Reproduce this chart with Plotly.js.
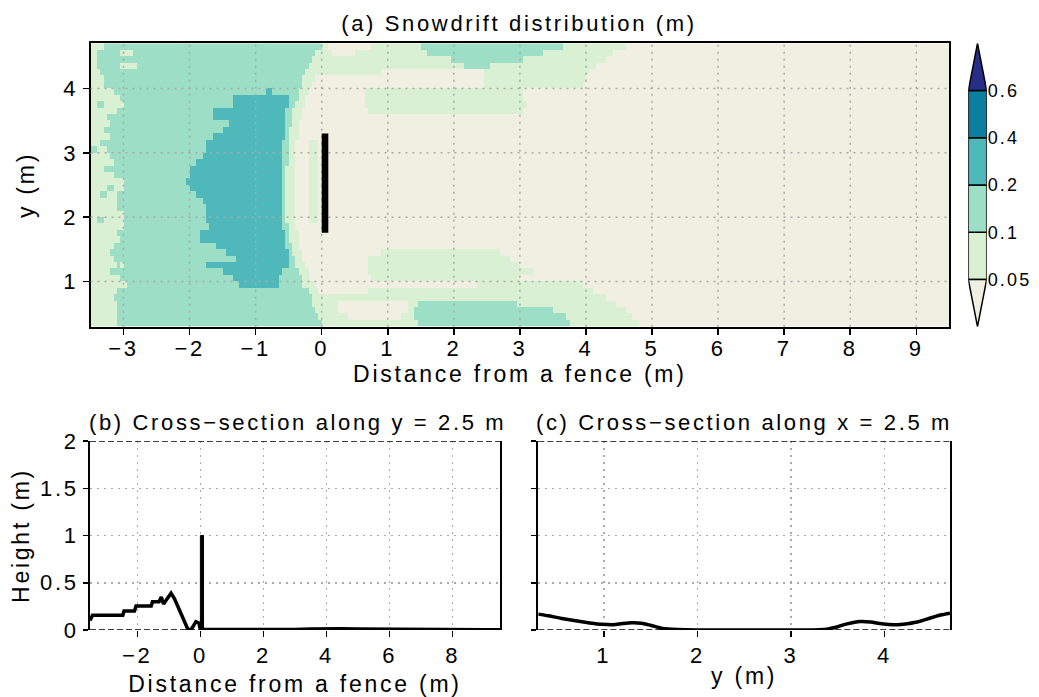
<!DOCTYPE html>
<html>
<head>
<meta charset="utf-8">
<script src="https://cdn.plot.ly/plotly-3.0.1.min.js"></script>
<style>
  html, body { margin: 0; padding: 0; background: #ffffff; }
  #chart { width: 1039px; height: 697px; }
  svg text { letter-spacing: 0.12em; }
</style>
</head>
<body>
<div id="chart"></div>
<script>
// Snowdrift depth classes (m): class 0 is below 0.05, class 5 above 0.6
const levelBounds = [0.05, 0.1, 0.2, 0.4, 0.6];
const levelLabels = ['0.05', '0.1', '0.2', '0.4', '0.6'];
const levelColors = ['#f1efe2', '#d9f0d3', '#9cdec6', '#4eb8ba', '#0a7fa0', '#282d87'];

// Map rows: centre of each 0.1 m strip in y, and the class runs along x
// given as [x where the run starts, class, x, class, ...]
const rowY = [4.65, 4.55, 4.45, 4.35, 4.25, 4.15, 4.05, 3.95, 3.85, 3.75, 3.65,
              3.55, 3.45, 3.35, 3.25, 3.15, 3.05, 2.95, 2.85, 2.75, 2.65, 2.55,
              2.45, 2.35, 2.25, 2.15, 2.05, 1.95, 1.85, 1.75, 1.65, 1.55, 1.45,
              1.35, 1.25, 1.15, 1.05, 0.95, 0.85, 0.75, 0.65, 0.55, 0.45, 0.35];
const rowRuns = [
  [-3.5,1, -3.3,2, 0.0,1, 0.12,0, 0.75,1, 1.5,2, 3.65,1, 4.6,0],
  [-3.5,1, -3.4,2, -3.05,1, -2.85,2, -0.08,1, 0.15,0, 0.5,1, 1.6,2, 3.35,1, 4.4,0],
  [-3.5,1, -3.42,2, -0.15,1, 1.95,2, 3.05,1, 4.3,0],
  [-3.5,1, -3.4,2, -3.05,1, -2.78,2, -0.2,1, 2.15,2, 2.55,1, 4.15,0],
  [-3.5,1, -3.35,2, -0.25,1, 0.9,0, 2.44,1, 4.05,0],
  [-3.5,1, -3.3,2, -0.28,1, -0.12,0, 2.44,1, 4.0,0],
  [-3.5,1, -3.28,2, -0.3,1, -0.17,0, 2.44,1, 3.95,0],
  [-3.5,1, -3.15,2, -0.83,3, -0.77,2, -0.33,1, -0.2,0, 0.63,1, 3.05,0],
  [-3.5,1, -3.03,2, -1.35,3, -0.5,2, -0.37,1, -0.24,0, 0.63,1, 3.05,0],
  [-3.5,1, -3.38,2, -3.3,1, -3.0,2, -1.36,3, -0.51,2, -0.4,1, -0.27,0, 0.65,1, 3.1,0],
  [-3.5,1, -3.1,2, -1.66,3, -0.53,2, -0.43,1, -0.3,0, 0.72,1, 3.05,0],
  [-3.5,1, -3.25,2, -1.66,3, -0.54,2, -0.45,1, -0.32,0],
  [-3.5,1, -3.2,2, -1.4,3, -0.55,2, -0.47,1, -0.34,0],
  [-3.5,1, -3.3,2, -1.51,3, -0.56,2, -0.49,1, -0.36,0],
  [-3.5,1, -3.22,2, -1.64,3, -0.57,2, -0.5,1, -0.37,0],
  [-3.5,1, -3.35,2, -1.76,3, -0.58,2, -0.51,1, -0.38,0, -0.22,1, -0.06,0],
  [-3.5,2, -3.42,1, -3.25,2, -1.77,3, -0.58,2, -0.52,1, -0.38,0, -0.22,1, -0.06,0],
  [-3.5,1, -3.2,2, -1.8,3, -0.6,2, -0.52,1, -0.38,0, -0.22,1, -0.06,0],
  [-3.5,1, -3.15,2, -1.9,3, -0.6,2, -0.52,1, -0.38,0, -0.22,1, -0.06,0],
  [-3.5,1, -3.3,2, -1.98,3, -0.6,2, -0.53,1, -0.38,0, -0.22,1, -0.06,0],
  [-3.5,1, -3.15,2, -2.02,3, -0.62,2, -0.53,1, -0.38,0, -0.22,1, -0.06,0],
  [-3.5,1, -3.0,2, -2.07,3, -0.62,2, -0.53,1, -0.38,0, -0.22,1, -0.06,0],
  [-3.5,1, -3.25,2, -3.15,1, -2.98,2, -1.99,3, -0.62,2, -0.53,1, -0.38,0, -0.22,1, -0.06,0],
  [-3.5,1, -3.35,2, -3.25,1, -3.1,2, -1.91,3, -0.62,2, -0.53,1, -0.38,0, -0.22,1, -0.06,0],
  [-3.5,1, -3.08,2, -1.82,3, -0.62,2, -0.53,1, -0.38,0, -0.22,1, -0.06,0],
  [-3.5,1, -3.1,2, -1.77,3, -0.62,2, -0.53,1, -0.38,0, -0.22,1, -0.06,0],
  [-3.5,1, -3.0,2, -1.75,3, -0.62,2, -0.53,1, -0.38,0, -0.22,1, -0.06,0],
  [-3.5,1, -3.38,2, -3.28,1, -3.0,2, -1.74,3, -0.6,2, -0.53,1, -0.38,0, -0.22,1, -0.06,0],
  [-3.5,1, -3.0,2, -1.68,3, -0.58,2, -0.52,1, -0.38,0],
  [-3.5,1, -3.1,2, -1.86,3, -0.57,2, -0.5,1, -0.37,0],
  [-3.5,1, -3.05,2, -1.87,3, -0.55,2, -0.48,1, -0.35,0],
  [-3.5,1, -3.15,2, -1.62,3, -0.53,2, -0.46,1, -0.33,0],
  [-3.5,1, -3.22,2, -1.45,3, -0.52,2, -0.44,1, -0.3,0, 0.9,1, 2.7,0],
  [-3.5,1, -3.15,2, -1.29,3, -0.5,2, -0.42,1, -0.28,0, 0.68,1, 2.85,0],
  [-3.5,1, -3.1,2, -3.05,1, -2.98,2, -1.76,3, -0.48,2, -0.4,1, -0.25,0, 0.68,1, 3.0,0],
  [-3.5,1, -3.2,2, -1.5,3, -0.62,2, -0.36,1, -0.22,0, 0.7,1, 3.2,0],
  [-3.5,1, -3.05,2, -1.34,3, -0.66,2, -0.32,1, -0.18,0, 0.75,1, 3.0,0],
  [-3.5,1, -2.95,2, -1.26,3, -0.63,2, -0.28,1, -0.12,0, 2.35,1, 3.95,0],
  [-3.5,1, -3.1,2, -0.22,1, -0.05,0, 0.7,1, 4.1,0],
  [-3.5,1, -3.15,2, -0.17,1, 4.3,0],
  [-3.5,1, -3.12,2, -0.13,1, 0.23,0, 1.3,1, 1.45,2, 2.95,1, 4.45,0],
  [-3.5,1, -3.12,2, -0.1,1, 0.25,0, 1.3,1, 1.42,2, 3.5,1, 4.6,0],
  [-3.5,1, -3.12,2, -0.06,1, 0.4,0, 1.2,1, 1.42,2, 3.7,1, 4.7,0],
  [-3.5,1, -3.1,2, 0.0,1, 1.45,2, 3.75,1, 4.8,0]
];

// Fence: plan-view extent and height (m)
const fenceX = [0.0, 0.1];
const fenceY = [1.76, 3.3];
const fenceHeight = 1.0;

// Cross-section along y = 2.5 m
const secBx = [-3.5, -3.42, -2.46, -2.42, -2.09, -2.04, -1.56, -1.52, -1.31, -1.24, -1.17,
               -1.03, -0.93, -0.82, -0.66, -0.4, -0.3, -0.14, -0.05, 0.0, 0.5, 1.0, 2.0,
               3.0, 3.5, 4.0, 4.5, 5.0, 6.0, 7.0, 8.0, 9.0, 9.5];
const secBh = [0.1, 0.155, 0.155, 0.2, 0.2, 0.255, 0.255, 0.3, 0.3, 0.35, 0.275,
               0.35, 0.39, 0.33, 0.21, 0.01, 0.0, 0.088, 0.075, 0.005, 0.004, 0.003, 0.003,
               0.005, 0.01, 0.015, 0.012, 0.01, 0.006, 0.004, 0.003, 0.002, 0.002];

// Cross-section along x = 2.5 m
const secCy = [0.3, 0.41, 0.55, 0.7, 0.85, 0.98, 1.1, 1.2, 1.3, 1.4, 1.5, 1.63, 1.8, 2.0,
               2.5, 3.0, 3.3, 3.4, 3.5, 3.6, 3.74, 3.85, 3.97, 4.1, 4.2, 4.35, 4.5, 4.6, 4.7];
const secCh = [0.168, 0.15, 0.122, 0.097, 0.075, 0.06, 0.056, 0.068, 0.076, 0.072, 0.05,
               0.016, 0.004, 0.0, 0.0, 0.0, 0.002, 0.012, 0.035, 0.065, 0.09, 0.085, 0.065,
               0.055, 0.062, 0.085, 0.13, 0.158, 0.178];

// Tick positions
const mapXTicks = [-3, -2, -1, 0, 1, 2, 3, 4, 5, 6, 7, 8, 9];
const mapYTicks = [1, 2, 3, 4];
const secBXTicks = [-2, 0, 2, 4, 6, 8];
const heightTicks = [0, 0.5, 1, 1.5, 2];
const heightLabels = ['0', '0.5', '1', '1.5', '2'];
const secCXTicks = [1, 2, 3, 4];

// ---- build the class grid on 0.05 m columns ----
const xMin = -3.5, xMax = 9.5, dx = 0.05;
const colX = [];
for (let i = 0; xMin + (i + 0.5) * dx < xMax; i++) colX.push(+(xMin + (i + 0.5) * dx).toFixed(3));

function classAt(runs, x) {
  let lvl = runs[1];
  for (let k = 0; k < runs.length; k += 2) {
    if (x >= runs[k]) lvl = runs[k + 1];
  }
  return lvl;
}
const order = rowY.map((y, i) => i).sort((a, b) => rowY[a] - rowY[b]);
const gridY = order.map(i => rowY[i]);
const gridZ = order.map(i => colX.map(x => classAt(rowRuns[i], x)));

// stepped colour scale over class indices 0..5
const nCls = levelColors.length;
const colorscale = [];
levelColors.forEach((c, i) => {
  colorscale.push([i / nCls, c]);
  colorscale.push([(i + 1) / nCls, c]);
});

const font = 'Liberation Sans, Arial, Helvetica, sans-serif';
const W = 1039, H = 697;
const px = v => v / W;
const py = v => 1 - v / H;

const traces = [
  {
    type: 'heatmap', x: colX, y: gridY, z: gridZ,
    zmin: -0.5, zmax: nCls - 0.5, colorscale: colorscale, showscale: false,
    zsmooth: false, hoverinfo: 'skip', xaxis: 'x', yaxis: 'y'
  },
  {
    type: 'scatter', mode: 'lines', x: secBx, y: secBh,
    line: { color: '#000', width: 3.5 }, xaxis: 'x2', yaxis: 'y2', hoverinfo: 'skip'
  },
  {
    type: 'scatter', mode: 'lines', x: secCy, y: secCh,
    line: { color: '#000', width: 3.5, shape: 'spline', smoothing: 0.8 },
    xaxis: 'x3', yaxis: 'y3', hoverinfo: 'skip'
  },
  {
    type: 'scatter', mode: 'markers', x: [0.5], y: [3],
    marker: { opacity: 0 }, xaxis: 'x4', yaxis: 'y4', hoverinfo: 'skip'
  }
];

const axisBase = {
  showline: true, linecolor: '#000', linewidth: 2, mirror: true,
  ticks: 'outside', ticklen: 6, tickwidth: 1.5, tickcolor: '#000',
  zeroline: false, showgrid: false,
  tickfont: { family: font, size: 22, color: '#000' }
};
const gridDash = '2px,5px';
const gridColor = '#aaaaaa';

const shapes = [];
// dotted grid drawn over the map
mapXTicks.forEach(v => shapes.push({
  type: 'line', xref: 'x', yref: 'y domain', x0: v, x1: v, y0: 0, y1: 1,
  line: { color: gridColor, width: 1.5, dash: gridDash }
}));
mapYTicks.forEach(v => shapes.push({
  type: 'line', xref: 'x domain', yref: 'y', x0: 0, x1: 1, y0: v, y1: v,
  line: { color: gridColor, width: 1.5, dash: gridDash }
}));
// fence in plan view and in the cross-section
shapes.push({
  type: 'rect', xref: 'x', yref: 'y', x0: fenceX[0], x1: fenceX[1], y0: fenceY[0], y1: fenceY[1],
  fillcolor: '#000', line: { width: 0 }
});
shapes.push({
  type: 'rect', xref: 'x2', yref: 'y2', x0: fenceX[0], x1: fenceX[1], y0: 0, y1: fenceHeight,
  fillcolor: '#000', line: { color: '#000', width: 1 }
});
// dashed top and bottom frames of the cross-sections
['2', '3'].forEach(n => {
  [0, 2].forEach(v => shapes.push({
    type: 'line', xref: 'x' + n + ' domain', yref: 'y' + n, x0: 0, x1: 1, y0: v, y1: v,
    line: { color: '#000', width: 1.5, dash: '6px,3px' }
  }));
});
// colour bar boxes with triangular ends
for (let i = 1; i <= 4; i++) {
  shapes.push({
    type: 'rect', xref: 'x4', yref: 'y4', x0: 0, x1: 1, y0: i, y1: i + 1,
    fillcolor: levelColors[i], line: { color: '#000', width: 1.5 }
  });
}
shapes.push({
  type: 'path', xref: 'x4', yref: 'y4', path: 'M 0 1 L 1 1 L 0.5 0 Z',
  fillcolor: levelColors[0], line: { color: '#000', width: 1.5 }
});
shapes.push({
  type: 'path', xref: 'x4', yref: 'y4', path: 'M 0 5 L 1 5 L 0.5 6 Z',
  fillcolor: levelColors[5], line: { color: '#000', width: 1.5 }
});

const layout = {
  width: W, height: H, autosize: false,
  margin: { l: 0, r: 0, t: 0, b: 0 },
  paper_bgcolor: '#ffffff', plot_bgcolor: '#ffffff',
  showlegend: false,
  font: { family: font, color: '#000' },
  title: {
    text: '(a) Snowdrift distribution (m)', x: px(519), y: py(23),
    xanchor: 'center', yanchor: 'middle', xref: 'paper', yref: 'paper',
    font: { family: font, size: 22, color: '#000' }
  },
  xaxis: Object.assign({}, axisBase, {
    domain: [px(90.5), px(949.3)], range: [xMin, xMax], anchor: 'y',
    tickvals: mapXTicks, ticklabelstandoff: -5,
    title: { text: 'Distance from a fence (m)', standoff: 4, font: { family: font, size: 23 } }
  }),
  yaxis: Object.assign({}, axisBase, {
    domain: [py(326.7), py(43.3)], range: [0.3, 4.7], anchor: 'x',
    tickvals: mapYTicks,
    title: { text: 'y (m)', standoff: 22, font: { family: font, size: 23 } }
  }),
  xaxis2: Object.assign({}, axisBase, {
    domain: [px(90), px(500)], range: [xMin, xMax], anchor: 'y2',
    showline: false, tickvals: secBXTicks,
    showgrid: true, gridcolor: gridColor, griddash: gridDash, gridwidth: 1.5,
    title: { text: 'Distance from a fence (m)', standoff: 8, font: { family: font, size: 23 } }
  }),
  yaxis2: Object.assign({}, axisBase, {
    domain: [py(630), py(441)], range: [0, 2], anchor: 'x2',
    tickvals: heightTicks, ticktext: heightLabels, ticklen: 5,
    showgrid: true, gridcolor: gridColor, griddash: gridDash, gridwidth: 1.5,
    title: { text: 'Height (m)', standoff: 4, font: { family: font, size: 23 } }
  }),
  xaxis3: Object.assign({}, axisBase, {
    domain: [px(538.3), px(950)], range: [0.3, 4.7], anchor: 'y3',
    showline: false, tickvals: secCXTicks,
    showgrid: true, gridcolor: gridColor, griddash: gridDash, gridwidth: 1.5,
    title: { text: 'y (m)', standoff: 0, font: { family: font, size: 23 } }
  }),
  yaxis3: Object.assign({}, axisBase, {
    domain: [py(630), py(441)], range: [0, 2], anchor: 'x3',
    tickvals: heightTicks, showticklabels: false, ticklen: 5,
    showgrid: true, gridcolor: gridColor, griddash: gridDash, gridwidth: 1.5
  }),
  xaxis4: {
    domain: [px(968.3), px(986.7)], range: [0, 1], anchor: 'y4', visible: false, fixedrange: true
  },
  yaxis4: {
    domain: [py(326.7), py(43.3)], range: [0, 6], anchor: 'x4', side: 'right',
    tickvals: [1, 2, 3, 4, 5], ticktext: levelLabels, ticks: '',
    showline: false, showgrid: false, zeroline: false, fixedrange: true,
    tickfont: { family: font, size: 18, color: '#000' }
  },
  annotations: [
    {
      text: '(b) Cross\u2212section along y = 2.5 m', xref: 'paper', yref: 'paper',
      x: px(87), y: py(422), xanchor: 'left', yanchor: 'middle', showarrow: false,
      font: { family: font, size: 22, color: '#000' }
    },
    {
      text: '(c) Cross\u2212section along x = 2.5 m', xref: 'paper', yref: 'paper',
      x: px(534), y: py(422), xanchor: 'left', yanchor: 'middle', showarrow: false,
      font: { family: font, size: 22, color: '#000' }
    }
  ],
  shapes: shapes
};

Plotly.newPlot('chart', traces, layout, { staticPlot: true, displayModeBar: false });
</script>
</body>
</html>
